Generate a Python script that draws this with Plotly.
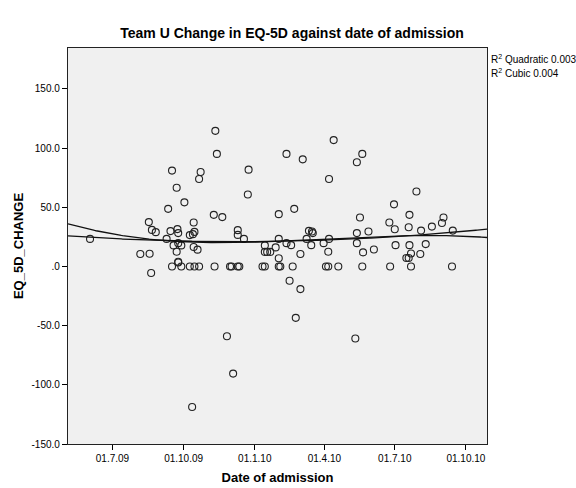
import numpy as np
import pandas as pd
import plotly.graph_objects as go

# Admission dates and EQ-5D change scores
admission_dates = [
    "2009-06-02", "2009-08-06", "2009-08-17", "2009-08-18", "2009-08-20", "2009-08-21",
    "2009-08-26", "2009-09-09", "2009-09-11", "2009-09-14", "2009-09-16", "2009-09-16",
    "2009-09-18", "2009-09-22", "2009-09-22", "2009-09-23", "2009-09-24", "2009-09-24",
    "2009-09-24", "2009-09-24", "2009-09-28", "2009-09-28", "2009-10-02", "2009-10-09",
    "2009-10-09", "2009-10-14", "2009-10-15", "2009-10-13", "2009-10-14", "2009-10-15",
    "2009-10-19", "2009-10-21", "2009-10-21", "2009-10-23", "2009-11-09", "2009-11-10",
    "2009-11-11", "2009-11-13", "2009-11-20", "2009-11-26", "2009-11-30", "2009-12-02",
    "2009-12-04", "2009-12-10", "2009-12-10", "2009-12-10", "2009-12-12", "2009-10-12",
    "2009-12-18", "2009-12-23", "2009-12-24", "2010-01-11", "2010-01-14", "2010-01-14",
    "2010-01-14", "2010-01-17", "2010-01-21", "2010-01-28", "2010-02-01", "2010-02-01",
    "2010-02-01", "2010-02-01", "2010-02-03", "2010-02-11", "2010-02-11", "2010-02-15",
    "2010-02-17", "2010-02-19", "2010-02-21", "2010-02-23", "2010-03-01", "2010-03-01",
    "2010-03-04", "2010-03-09", "2010-03-12", "2010-03-16", "2010-03-17", "2010-03-15",
    "2010-03-31", "2010-04-03", "2010-04-06", "2010-04-06", "2010-04-07", "2010-04-07",
    "2010-04-13", "2010-04-19", "2010-05-11", "2010-05-13", "2010-05-13", "2010-05-13",
    "2010-05-17", "2010-05-20", "2010-05-20", "2010-05-21", "2010-05-28", "2010-06-04",
    "2010-06-24", "2010-06-25", "2010-06-30", "2010-07-01", "2010-07-02", "2010-07-16",
    "2010-07-19", "2010-07-19", "2010-07-20", "2010-07-20", "2010-07-22", "2010-07-22",
    "2010-07-29", "2010-08-03", "2010-08-04", "2010-08-10", "2010-08-18", "2010-08-31",
    "2010-09-02", "2010-09-13", "2010-09-14",
]
eq5d_change = [
    23.3, 10.6, 37.5, 10.8, -5.5, 30.9,
    29.0, 23.3, 48.7, 29.9, 81.0, 0.0,
    17.8, 66.5, 12.5, 31.6, 19.7, 28.2,
    4.0, 3.4, 17.8, 0.0, 54.2, 26.5,
    0.0, 37.1, 29.2, 27.3, 16.5, 0.0,
    14.2, 73.9, 0.0, 79.8, 43.6, 0.0,
    114.6, 95.1, 41.7, -58.9, 0.0, 0.0,
    -90.5, 30.7, 26.7, 0.0, 0.0, -118.8,
    23.3, 60.8, 81.8, 0.0, 0.0, 17.8,
    12.3, 12.3, 12.3, 16.1, 23.3, 44.2,
    7.0, 0.0, 0.0, 95.1, 19.7, -12.0,
    18.0, 0.0, 48.7, -43.4, 10.6, -19.1,
    90.5, 23.3, 30.1, 29.5, 28.2, 18.0,
    19.7, 0.0, 0.0, 12.5, 23.3, 73.9,
    106.8, 0.0, -60.8, 88.1, 28.2, 19.7,
    41.4, 95.1, 0.0, 11.9, 29.5, 14.4,
    37.1, 0.0, 52.5, 31.5, 18.0, 7.2,
    7.2, 33.2, 43.6, 18.0, 11.0, 0.0,
    63.4, 10.6, 30.3, 18.9, 33.7, 36.7,
    41.4, 0.0, 30.3,
]

# Axis settings
x_range = ["2009-05-04 12:00", "2010-10-28 06:00"]
y_range = [-150, 184.6]
x_tick_dates = ["2009-07-01", "2009-10-01", "2010-01-01", "2010-04-01", "2010-07-01", "2010-10-01"]
x_tick_text = ["01.7.09", "01.10.09", "01.1.10", "01.4.10", "01.7.10", "01.10.10"]
y_tick_vals = [-150, -100, -50, 0, 50, 100, 150]
y_tick_text = ["-150.0", "-100.0", "-50.0", ".0", "50.0", "100.0", "150.0"]
r2_labels = ["Quadratic 0.003", "Cubic 0.004"]

dates = pd.to_datetime(admission_dates)
origin = pd.Timestamp("2009-07-01")
days = np.asarray((dates - origin).days, dtype=float)
vals = np.asarray(eq5d_change, dtype=float)

# Quadratic and cubic least-squares fits, drawn across the whole axis
grid_dates = pd.date_range(x_range[0], x_range[1], periods=300)
grid_days = np.asarray((grid_dates - origin) / pd.Timedelta(days=1), dtype=float)
quad = np.polyval(np.polyfit(days, vals, 2), grid_days)
cubic = np.polyval(np.polyfit(days, vals, 3), grid_days)

fig = go.Figure()
fig.add_trace(go.Scatter(
    x=dates, y=vals, mode="markers",
    marker=dict(symbol="circle-open", size=7, color="#222222", line=dict(width=1.1)),
    showlegend=False,
))
for fit in (quad, cubic):
    fig.add_trace(go.Scatter(
        x=grid_dates, y=fit, mode="lines",
        line=dict(color="#111111", width=1.3), showlegend=False,
    ))

font_family = "Liberation Sans, Arial, sans-serif"
fig.update_layout(
    width=576, height=488,
    margin=dict(l=68, r=89, t=48, b=44, autoexpand=False),
    paper_bgcolor="white", plot_bgcolor="#F0F0F0",
    font=dict(family=font_family, color="#000000", size=10),
    title=dict(
        text="<b>Team U Change in EQ-5D against date of admission</b>",
        x=292 / 576, xref="container", xanchor="center",
        y=1 - 33 / 488, yanchor="middle",
        font=dict(size=14, family=font_family, color="#000000"),
    ),
)
fig.update_xaxes(
    type="date", range=x_range, automargin=False,
    tickvals=x_tick_dates, ticktext=x_tick_text,
    ticks="outside", ticklen=5, tickwidth=1, tickcolor="#000000",
    showline=True, linecolor="#222222", linewidth=1.3, mirror=True,
    showgrid=False, zeroline=False,
    tickfont=dict(size=10),
    title=dict(text="<b>Date of admission</b>", font=dict(size=13), standoff=9),
)
fig.update_yaxes(
    range=y_range, automargin=False,
    tickvals=y_tick_vals, ticktext=y_tick_text,
    ticks="outside", ticklen=5, tickwidth=1, tickcolor="#000000",
    showline=True, linecolor="#222222", linewidth=1.3, mirror=True,
    showgrid=False, zeroline=False,
    tickfont=dict(size=10),
    title=dict(text="<b>EQ_5D_CHANGE</b>", font=dict(size=13), standoff=4),
)

for i, label in enumerate(r2_labels):
    fig.add_annotation(
        xref="paper", yref="paper", x=1.0, y=1 - (11 + 14 * i) / 396,
        xanchor="left", yanchor="middle", xshift=2, showarrow=False,
        text="R<sup>2</sup> " + label, font=dict(size=10, family=font_family),
    )

fig.write_html("out.html")
